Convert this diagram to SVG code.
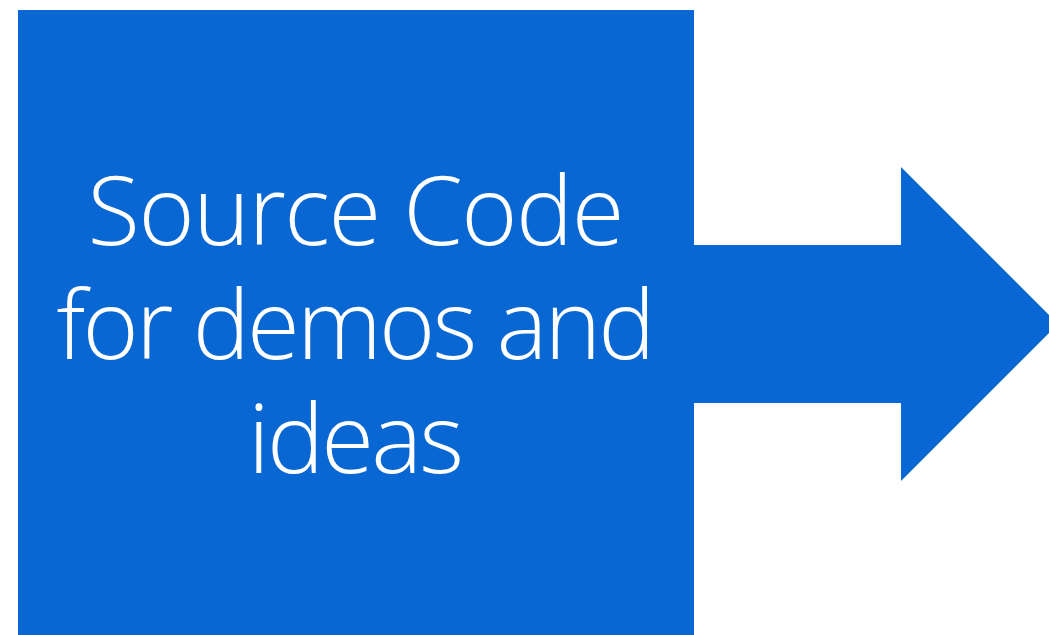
<svg xmlns="http://www.w3.org/2000/svg" width="1049" height="635" viewBox="0 0 1049 635">
  <style>
    .shape { fill: #0967d3; }
    .label { fill: #ffffff; font-family: "Open Sans", "Liberation Sans", sans-serif; font-weight: 300; font-size: 96px; text-anchor: middle; }
  </style>
  <rect width="1049" height="635" fill="#ffffff"/>
  <g id="source-code">
    <rect class="shape" x="18" y="10" width="676" height="640"/>
    <text class="label" x="356" y="245" textLength="537" lengthAdjust="spacing">Source Code</text>
    <text class="label" x="356" y="359" textLength="599" lengthAdjust="spacing">for demos and</text>
    <text class="label" x="356" y="473" textLength="216" lengthAdjust="spacing">ideas</text>
  </g>
  <g id="connectors">
    <path id="arrow" class="shape" d="M694,245 H901 V167 L1058,324 L901,481 V403 H694 Z"/>
  </g>
</svg>
